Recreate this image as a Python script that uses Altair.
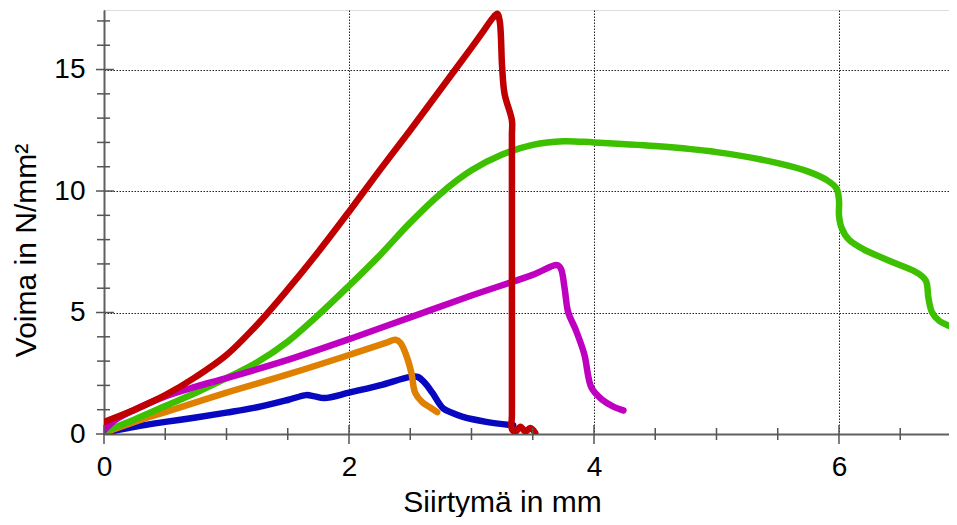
import altair as alt
import pandas as pd

# ---- data ----
red_x = [0, 0.25, 0.5, 0.75, 1.0, 1.25, 1.5, 1.75, 2.0, 2.25, 2.5, 2.75, 3.0, 3.1, 3.17, 3.21,
         3.23, 3.25, 3.27, 3.33, 3.33, 3.33, 3.33, 3.36, 3.4, 3.44, 3.48, 3.52]
red_y = [0.5, 1.0, 1.6, 2.35, 3.25, 4.5, 5.95, 7.5, 9.15, 10.85, 12.5, 14.2, 15.9, 16.6, 17.1, 17.3,
         17.0, 15.1, 14.0, 12.9, 12.3, 0.8, 0.2, 0.1, 0.3, 0.1, 0.25, 0.05]

green_x = [0, 0.25, 0.5, 0.75, 1.0, 1.25, 1.5, 1.75, 2.0, 2.25, 2.5, 2.75, 3.0, 3.25, 3.5, 3.75,
           4.0, 4.5, 5.0, 5.5, 5.75, 5.9, 5.98, 6.0, 6.0, 6.02, 6.08, 6.2, 6.45, 6.65, 6.71, 6.73,
           6.76, 6.82, 6.9, 6.97]
green_y = [0.1, 0.6, 1.15, 1.7, 2.3, 2.95, 3.8, 4.9, 6.1, 7.35, 8.7, 9.9, 10.85, 11.5, 11.9, 12.05,
           12.0, 11.85, 11.6, 11.15, 10.8, 10.45, 10.1, 9.6, 9.0, 8.5, 8.0, 7.6, 7.05, 6.6, 6.3, 5.6,
           5.0, 4.65, 4.45, 4.3]

magenta_x = [0, 0.1, 0.25, 0.5, 0.75, 1.0, 1.5, 2.0, 2.5, 3.0, 3.5, 3.7, 3.73, 3.76, 3.79, 3.85,
             3.92, 3.98, 4.07, 4.15, 4.24]
magenta_y = [0.15, 0.6, 1.0, 1.55, 1.95, 2.3, 3.05, 3.9, 4.8, 5.7, 6.55, 6.95, 6.8, 6.0, 5.0, 4.3,
             3.3, 1.9, 1.4, 1.15, 0.97]

orange_x = [0, 0.25, 0.5, 1.0, 1.5, 2.0, 2.3, 2.38, 2.42, 2.47, 2.51, 2.54, 2.6, 2.66, 2.72]
orange_y = [0.05, 0.5, 0.9, 1.7, 2.45, 3.25, 3.75, 3.88, 3.75, 3.2, 2.5, 1.7, 1.3, 1.1, 0.9]

blue_x = [0, 0.25, 0.5, 0.75, 1.0, 1.25, 1.5, 1.65, 1.72, 1.8, 2.0, 2.25, 2.5, 2.56, 2.62, 2.68,
          2.77, 2.85, 2.93, 3.12, 3.34]
blue_y = [0.05, 0.3, 0.5, 0.68, 0.88, 1.1, 1.4, 1.6, 1.55, 1.48, 1.7, 2.0, 2.35, 2.35, 2.1, 1.7,
          1.05, 0.85, 0.7, 0.5, 0.36]

x_major = [0, 2, 4, 6]
x_minor = [0.5, 1, 1.5, 2.5, 3, 3.5, 4.5, 5, 5.5, 6.5]
y_major = [0, 5, 10, 15]
y_minor = [1, 2, 3, 4, 6, 7, 8, 9, 11, 12, 13, 14, 16, 17]

X_TITLE = "Siirtymä in mm"
Y_TITLE = "Voima in N/mm²"

# ---- layout ----
W, H = 845, 424
XMAX, YMAX = 6.898, 17.45
FONT = "Liberation Sans"

xs = alt.Scale(domain=[0, XMAX], nice=False, zero=False)
ys = alt.Scale(domain=[0, YMAX], nice=False, zero=False)

series = [
    ("blue", blue_x, blue_y, "#0808C0"),
    ("orange", orange_x, orange_y, "#E08000"),
    ("green", green_x, green_y, "#3CC000"),
    ("magenta", magenta_x, magenta_y, "#C000C0"),
    ("red", red_x, red_y, "#C00000"),
]

x_axis = alt.Axis(values=x_major, grid=True, gridDash=[1.5, 1.5], gridColor="#222222",
                  gridWidth=1, ticks=False, tickSize=0, domain=True, domainColor="#606060",
                  domainWidth=2, labelFont=FONT, labelFontSize=28, labelColor="black",
                  labelPadding=19, labelBaseline="top", labelFlush=False, format="d",
                  title=X_TITLE, titleFont=FONT, titleFontSize=30, titleFontWeight="normal",
                  titleColor="black", titleX=398, titleY=77, titleBaseline="alphabetic",
                  titleAlign="center")
y_axis = alt.Axis(values=y_major, grid=True, gridDash=[1.5, 1.5], gridColor="#222222",
                  gridWidth=1, ticks=False, tickSize=0, domain=True, domainColor="#606060",
                  domainWidth=2, labelFont=FONT, labelFontSize=28, labelColor="black",
                  labelPadding=19, labelFlush=False, format="d",
                  title=Y_TITLE, titleFont=FONT, titleFontSize=30, titleFontWeight="normal",
                  titleColor="black", titleX=-69, titleY=240, titleAngle=270,
                  titleBaseline="alphabetic", titleAlign="center")

base_df = pd.DataFrame({"x": [0, XMAX], "y": [0, YMAX]})
axes = alt.Chart(base_df).mark_point(opacity=0).encode(
    x=alt.X("x:Q", scale=xs, axis=x_axis),
    y=alt.Y("y:Q", scale=ys, axis=y_axis),
)

layers = [axes]
for name, sx, sy, col in series:
    df = pd.DataFrame({"x": sx, "y": sy, "i": list(range(len(sx)))})
    layers.append(
        alt.Chart(df).mark_line(color=col, strokeWidth=6.5, strokeCap="round",
                                strokeJoin="round", clip=True,
                                interpolate="catmull-rom").encode(
            x=alt.X("x:Q", scale=xs),
            y=alt.Y("y:Q", scale=ys),
            order="i:Q",
        )
    )

tick_col = "#555555"
xmaj = alt.Chart(pd.DataFrame({"x": x_major})).mark_rule(color=tick_col, strokeWidth=1.5).encode(
    x=alt.X("x:Q", scale=xs), y=alt.value(H - 9), y2=alt.value(H + 10))
xmin = alt.Chart(pd.DataFrame({"x": x_minor})).mark_rule(color=tick_col, strokeWidth=1.5).encode(
    x=alt.X("x:Q", scale=xs), y=alt.value(H - 6), y2=alt.value(H + 6))
ymaj = alt.Chart(pd.DataFrame({"y": y_major})).mark_rule(color=tick_col, strokeWidth=1.5).encode(
    y=alt.Y("y:Q", scale=ys), x=alt.value(-8), x2=alt.value(10))
ymin = alt.Chart(pd.DataFrame({"y": y_minor})).mark_rule(color=tick_col, strokeWidth=1.5).encode(
    y=alt.Y("y:Q", scale=ys), x=alt.value(-7), x2=alt.value(6))

layers += [xmaj, xmin, ymaj, ymin]

chart = alt.layer(*layers).properties(
    width=W, height=H,
    autosize=alt.AutoSizeParams(type="none"),
    padding={"left": 96, "top": 2, "right": 0, "bottom": 83},
).configure_view(stroke=None).configure(background="white")

chart.save("out.html", embed_options={"renderer": "svg", "actions": False})
